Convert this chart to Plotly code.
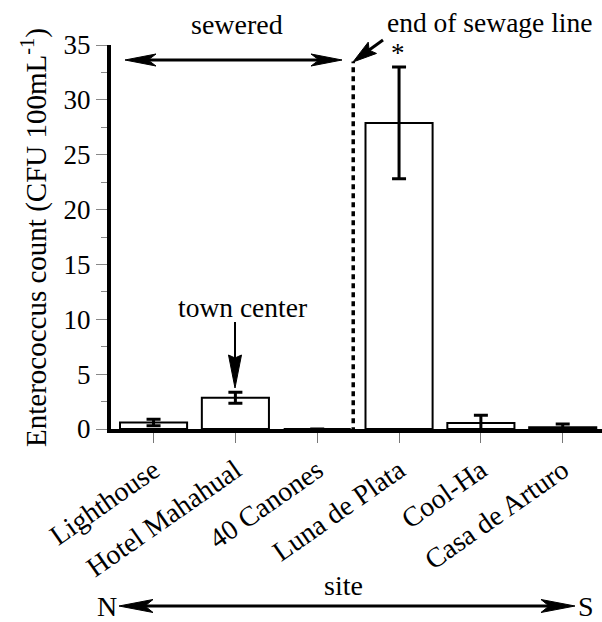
import plotly.graph_objects as go

# ---- data ----
sites = ["Lighthouse", "Hotel Mahahual", "40 Canones", "Luna de Plata", "Cool-Ha", "Casa de Arturo"]
counts = [0.6, 2.85, 0.0, 27.9, 0.55, 0.15]
errors = [0.3, 0.5, 0.0, 5.1, 0.7, 0.3]
y_ticks = [0, 5, 10, 15, 20, 25, 30, 35]
sewage_end = 2.44          # position of end of sewage line (category units)
sewage_top = 33.5

FONT = "Liberation Serif"
W, H = 602, 622
L, R, T, B = 111, 0, 45, 193


def px(x):
    return (x - L) / (W - L - R)


def py(y):
    return (H - B - y) / (H - T - B)


def head(tx, ty, dx, dy, length, half, notch):
    """filled arrowhead path in paper coords; tip at pixel (tx,ty), pointing along (dx,dy)"""
    n = (dx * dx + dy * dy) ** 0.5
    dx, dy = dx / n, dy / n
    nx, ny = -dy, dx
    bx, by = tx - dx * length, ty - dy * length
    p1 = (bx + nx * half, by + ny * half)
    p2 = (tx - dx * (length - notch), ty - dy * (length - notch))
    p3 = (bx - nx * half, by - ny * half)
    pts = [(tx, ty), p1, p2, p3]
    d = "M " + " L ".join(f"{px(a):.5f},{py(b):.5f}" for a, b in pts) + " Z"
    return dict(type="path", xref="paper", yref="paper", path=d,
                fillcolor="black", line=dict(color="black", width=1), layer="above")


def seg(x0, y0, x1, y1, w):
    return dict(type="line", xref="paper", yref="paper",
                x0=px(x0), y0=py(y0), x1=px(x1), y1=py(y1),
                line=dict(color="black", width=w), layer="above")


def tfont(size=27):
    return dict(family=FONT, size=size, color="black")


fig = go.Figure()
fig.add_trace(go.Bar(
    x=list(range(len(sites))), y=counts, width=0.82,
    marker=dict(color="white", line=dict(color="black", width=2)),
    error_y=dict(type="data", array=errors, visible=True,
                 color="black", thickness=3, width=7),
))

shapes = []
# dashed end-of-sewage line
shapes.append(dict(type="line", xref="x", yref="y", x0=sewage_end, x1=sewage_end,
                   y0=-0.3, y1=sewage_top,
                   line=dict(color="black", width=3.5, dash="5px,4px"), layer="above"))
# sewered double arrow
shapes.append(seg(140, 60, 328, 60, 3))
shapes.append(head(125, 60, -1, 0, 31, 6, 8))
shapes.append(head(342, 60, 1, 0, 31, 6, 8))
# end of sewage arrow
shapes.append(seg(383, 40, 365, 53, 3))
shapes.append(head(353, 62, -30, 22, 24, 7, 4))
# town center arrow
shapes.append(seg(235, 322, 235, 365, 2))
shapes.append(head(235, 388, 0, 1, 33, 6.5, 3))
# N-S arrow
shapes.append(seg(135, 606, 560, 606, 3))
shapes.append(head(119, 606, -1, 0, 34, 6.5, 8))
shapes.append(head(575, 606, 1, 0, 34, 6.5, 8))

annotations = [
    dict(text="Enterococcus count (CFU 100mL<sup>-1</sup>)", textangle=-90,
         x=px(34), y=py(238), xref="paper", yref="paper", showarrow=False,
         xanchor="center", yanchor="middle", font=tfont(29)),
    dict(text="sewered", x=px(237), y=py(24), xref="paper", yref="paper",
         showarrow=False, xanchor="center", yanchor="middle", font=tfont(28)),
    dict(text="end of sewage line", x=px(489), y=py(22), xref="paper", yref="paper",
         showarrow=False, xanchor="center", yanchor="middle", font=tfont(27.5)),
    dict(text="town center", x=px(242), y=py(307), xref="paper", yref="paper",
         showarrow=False, xanchor="center", yanchor="middle", font=tfont(27.5)),
    dict(text="*", x=px(398), y=py(53), xref="paper", yref="paper",
         showarrow=False, xanchor="center", yanchor="middle", font=tfont()),
    dict(text="site", x=px(343), y=py(585), xref="paper", yref="paper",
         showarrow=False, xanchor="center", yanchor="middle", font=tfont(28)),
    dict(text="N", x=px(107), y=py(606), xref="paper", yref="paper",
         showarrow=False, xanchor="center", yanchor="middle", font=tfont(28)),
    dict(text="S", x=px(586), y=py(606), xref="paper", yref="paper",
         showarrow=False, xanchor="center", yanchor="middle", font=tfont(28)),
]

fig.update_layout(
    width=W, height=H,
    margin=dict(l=L, r=R, t=T, b=B, pad=0),
    paper_bgcolor="white", plot_bgcolor="white",
    showlegend=False,
    shapes=shapes, annotations=annotations,
    xaxis=dict(range=[-0.52, 5.48], tickmode="array",
               tickvals=list(range(len(sites))), ticktext=sites,
               tickangle=-35, tickfont=tfont(28),
               ticks="outside", ticklen=10, tickwidth=1, tickcolor="#777",
               showline=True, linecolor="black", linewidth=4,
               showgrid=False, zeroline=False, fixedrange=True),
    yaxis=dict(range=[0, 35], tickmode="array", tickvals=y_ticks,
               ticks="outside", ticklen=11, tickwidth=1, tickcolor="#888",
               minor=dict(dtick=2.5, ticks="outside", ticklen=6, tickcolor="#888", tickwidth=1),
               tickfont=tfont(27),
               showline=True, linecolor="black", linewidth=4,
               showgrid=False, zeroline=False, fixedrange=True),
)

fig.write_html("out.html")
